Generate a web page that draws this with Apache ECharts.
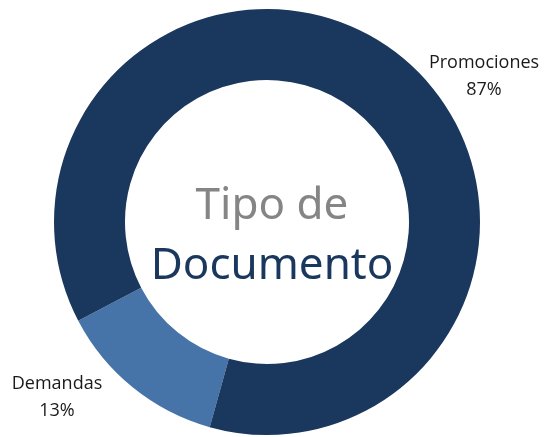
<!DOCTYPE html>
<html>
<head>
<meta charset="utf-8">
<script src="https://cdn.jsdelivr.net/npm/echarts@6/dist/echarts.min.js"></script>
<style>
  html, body { margin: 0; padding: 0; background: #fff; }
  #chart { width: 549px; height: 437px; }
</style>
</head>
<body>
<div id="chart"></div>
<script>
const categories = ["Demandas", "Promociones"];
const shares = [13, 87];
const sliceColors = ["#4674a8", "#1a375e"];
// where each outside label sits (label placement only)
const labelSpots = [[57, 397], [484, 76]];

const chart = echarts.init(document.getElementById("chart"));

chart.setOption({
  animation: false,
  title: {
    text: "{a|Tipo de}\n{b|Documento}",
    left: 267,
    top: 171,
    textAlign: "center",
    textStyle: {
      fontWeight: "normal",
      rich: {
        a: { fontFamily: "Noto Sans", fontWeight: "normal", fontSize: 44, color: "#858585", lineHeight: 60, align: "center" },
        b: { fontFamily: "Noto Sans", fontWeight: "normal", fontSize: 44, color: "#1a375e", lineHeight: 60, align: "center" },
      },
    },
  },
  series: [
    {
      type: "pie",
      center: [267, 222],
      radius: [142, 213],
      startAngle: 254.4,
      clockwise: true,
      silent: true,
      itemStyle: { borderWidth: 0 },
      label: {
        show: true,
        position: "outside",
        formatter: (p) => `${p.name}\n${p.value}%`,
        fontFamily: "Open Sans",
        fontSize: 18,
        lineHeight: 27,
        color: "#1a1a1a",
        align: "center",
        width: 160,
        overflow: "none",
      },
      labelLine: { show: false },
      labelLayout: (params) => ({
        x: labelSpots[params.dataIndex][0],
        y: labelSpots[params.dataIndex][1],
        align: "center",
        verticalAlign: "middle",
      }),
      data: categories.map((name, i) => ({
        name,
        value: shares[i],
        itemStyle: { color: sliceColors[i] },
      })),
    },
  ],
});
</script>
</body>
</html>
